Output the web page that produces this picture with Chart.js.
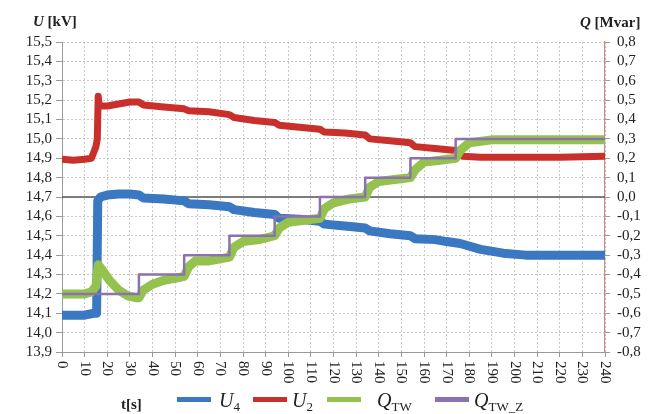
<!DOCTYPE html>
<html>
<head>
<meta charset="utf-8">
<script src="https://cdn.jsdelivr.net/npm/chart.js@4/dist/chart.umd.min.js"></script>
<style>
  html, body { margin: 0; padding: 0; background: #fff; }
  #wrap { position: relative; width: 654px; height: 414px; font-family: "Liberation Serif", "Times New Roman", serif; color: #222; }
  #c { position: absolute; left: 0; top: 0; }
  .lbl { position: absolute; white-space: nowrap; line-height: 1; }
  .ttl { font-size: 15px; font-weight: bold; }
  .leg { font-size: 20px; font-style: italic; }
  .leg sub { font-size: 13px; font-style: normal; vertical-align: -4px; line-height: 0; }
  .sw { position: absolute; top: 397px; width: 34px; height: 5px; }
</style>
</head>
<body>
<div id="wrap">
  <canvas id="c" width="654" height="414"></canvas>
  <div class="lbl ttl" style="left:33px;top:14px;"><i>U</i> [kV]</div>
  <div class="lbl ttl" style="left:580px;top:15px;"><i>Q</i> [Mvar]</div>
  <div class="lbl ttl" style="left:121px;top:397px;">t[s]</div>

  <div class="sw" style="left:177px;background:#3b78c2;"></div>
  <div class="lbl leg" style="left:219px;top:390px;">U<sub>4</sub></div>
  <div class="sw" style="left:253px;background:#c9302c;"></div>
  <div class="lbl leg" style="left:292px;top:390px;">U<sub>2</sub></div>
  <div class="sw" style="left:327px;background:#95c24f;"></div>
  <div class="lbl leg" style="left:377px;top:390px;">Q<sub>TW</sub></div>
  <div class="sw" style="left:435px;background:#8a72b0;"></div>
  <div class="lbl leg" style="left:474px;top:390px;">Q<sub>TW_Z</sub></div>
</div>

<script>
// Time axis and tick values
const timeTicks = [0, 10, 20, 30, 40, 50, 60, 70, 80, 90, 100, 110, 120, 130, 140, 150, 160, 170, 180, 190, 200, 210, 220, 230, 240];
const voltTicks = [13.9, 14.0, 14.1, 14.2, 14.3, 14.4, 14.5, 14.6, 14.7, 14.8, 14.9, 15.0, 15.1, 15.2, 15.3, 15.4, 15.5];
const qTicks = [-0.8, -0.7, -0.6, -0.5, -0.4, -0.3, -0.2, -0.1, 0.0, 0.1, 0.2, 0.3, 0.4, 0.5, 0.6, 0.7, 0.8];

// U4 [kV]
const tU4 = [0, 5, 10, 14, 15.3, 15.8, 17, 20, 25, 30, 34, 36, 45, 54, 56, 65, 74, 76, 85, 94, 96, 105, 114, 116, 125, 134, 136, 145, 154, 156, 165, 170, 176, 185, 195, 205, 220, 240];
const vU4 = [14.09, 14.09, 14.09, 14.10, 14.10, 14.68, 14.70, 14.71, 14.715, 14.715, 14.71, 14.695, 14.69, 14.68, 14.665, 14.66, 14.65, 14.635, 14.62, 14.61, 14.59, 14.585, 14.575, 14.56, 14.55, 14.54, 14.525, 14.51, 14.50, 14.485, 14.48, 14.47, 14.46, 14.43, 14.41, 14.40, 14.40, 14.40];

// U2 [kV]
const tU2 = [0, 5, 10, 13, 14, 15, 15.6, 16, 16.5, 20, 25, 30, 34, 36, 45, 54, 56, 65, 74, 76, 85, 94, 96, 105, 114, 116, 125, 134, 136, 145, 154, 156, 165, 174, 177, 185, 200, 220, 240];
const vU2 = [14.895, 14.89, 14.895, 14.90, 14.93, 14.96, 15.00, 15.22, 15.17, 15.17, 15.18, 15.19, 15.19, 15.175, 15.165, 15.155, 15.145, 15.14, 15.125, 15.11, 15.095, 15.085, 15.07, 15.06, 15.05, 15.035, 15.03, 15.02, 15.0, 14.99, 14.98, 14.96, 14.95, 14.94, 14.91, 14.905, 14.905, 14.905, 14.91];

// Q_TW [Mvar]
const tQtw = [0, 5, 10, 13, 15, 16, 18, 21, 25, 29, 33, 34, 36, 40, 45, 50, 54, 56, 59, 65, 74, 76, 80, 87, 94, 96, 100, 107, 114, 116, 120, 127, 134, 136, 140, 147, 154, 156, 160, 167, 174, 176, 180, 190, 200, 220, 240];
const vQtw = [-0.50, -0.50, -0.50, -0.49, -0.46, -0.35, -0.38, -0.43, -0.48, -0.51, -0.52, -0.52, -0.48, -0.45, -0.43, -0.42, -0.41, -0.36, -0.33, -0.33, -0.31, -0.26, -0.23, -0.22, -0.20, -0.16, -0.13, -0.12, -0.11, -0.06, -0.03, -0.01, 0.0, 0.05, 0.08, 0.09, 0.10, 0.14, 0.18, 0.19, 0.20, 0.24, 0.28, 0.295, 0.295, 0.295, 0.295];

// Q_TW_Z setpoint [Mvar]
const tQz = [0, 34, 54, 74, 94, 114, 134, 154, 174, 240];
const vQz = [-0.5, -0.4, -0.3, -0.2, -0.1, 0.0, 0.1, 0.2, 0.3, 0.3];

const zeroQ = 0.0;

const toPoints = (ts, vs) => ts.map((t, i) => ({ x: t, y: vs[i] }));
const fmt = v => Number(v).toFixed(1).replace('.', ',').replace('-0,0', '0,0');

const FONT = '"Liberation Serif", "Times New Roman", serif';
const gridCol = '#c9c9c9';
const axisCol = '#9a9a9a';

const extras = {
  id: 'extras',
  beforeDatasetsDraw(chart) {
    const { ctx, chartArea: a, scales } = chart;
    const py = scales.y2.getPixelForValue(zeroQ);
    ctx.save();
    ctx.strokeStyle = '#555';
    ctx.lineWidth = 1.3;
    ctx.beginPath();
    ctx.moveTo(a.left, py);
    ctx.lineTo(a.right, py);
    ctx.stroke();
    ctx.restore();
  },
  afterDraw(chart) {
    const { ctx, chartArea: a, scales } = chart;
    ctx.save();
    ctx.font = '15px ' + FONT;
    ctx.fillStyle = '#222';
    ctx.textAlign = 'left';
    ctx.textBaseline = 'middle';
    timeTicks.forEach(t => {
      const px = scales.x.getPixelForValue(t);
      ctx.save();
      ctx.translate(px, a.bottom + 9);
      ctx.rotate(Math.PI / 2);
      ctx.fillText(String(t), 0, 0);
      ctx.restore();
    });
    ctx.restore();
  }
};

const lineDefaults = { pointRadius: 0, tension: 0, fill: false, borderJoinStyle: 'round', borderCapStyle: 'butt' };

new Chart(document.getElementById('c'), {
  type: 'line',
  data: {
    datasets: [
      Object.assign({ label: 'U4', data: toPoints(tU4, vU4), borderColor: '#3b78c2', borderWidth: 9, yAxisID: 'y', order: 4 }, lineDefaults),
      Object.assign({ label: 'U2', data: toPoints(tU2, vU2), borderColor: '#c9302c', borderWidth: 7, yAxisID: 'y', order: 3 }, lineDefaults),
      Object.assign({ label: 'QTW', data: toPoints(tQtw, vQtw), borderColor: '#95c24f', borderWidth: 9, yAxisID: 'y2', order: 2 }, lineDefaults),
      Object.assign({ label: 'QTW_Z', data: toPoints(tQz, vQz), borderColor: '#8a72b0', borderWidth: 2.5, yAxisID: 'y2', order: 1, stepped: true }, lineDefaults)
    ]
  },
  options: {
    responsive: false,
    animation: false,
    events: [],
    layout: { padding: { left: 0, right: 0, top: 42, bottom: 0 } },
    plugins: { legend: { display: false }, tooltip: { enabled: false } },
    scales: {
      x: {
        type: 'linear', min: 0, max: 240,
        afterBuildTicks: s => { s.ticks = timeTicks.map(v => ({ value: v })); },
        afterFit: s => { s.height = 62; },
        ticks: { display: false, autoSkip: false },
        grid: { color: gridCol, lineWidth: 1, tickLength: 5, tickColor: axisCol, drawTicks: true },
        border: { display: true, color: axisCol, width: 1, dash: [2, 2] }
      },
      y: {
        position: 'left', min: 13.9, max: 15.5,
        afterBuildTicks: s => { s.ticks = voltTicks.map(v => ({ value: v })); },
        afterFit: s => { s.width = 62; },
        ticks: { callback: v => fmt(v), font: { family: FONT, size: 15 }, color: '#222', padding: 4, autoSkip: false },
        grid: { color: gridCol, lineWidth: 1, tickLength: 6, tickColor: axisCol },
        border: { display: true, color: axisCol, width: 1, dash: [2, 2] }
      },
      y2: {
        position: 'right', min: -0.8, max: 0.8,
        afterBuildTicks: s => { s.ticks = qTicks.map(v => ({ value: v })); },
        afterFit: s => { s.width = 49; },
        ticks: { callback: v => fmt(v), font: { family: FONT, size: 15 }, color: '#222', padding: 7, autoSkip: false },
        grid: { drawOnChartArea: false, tickLength: 5, tickColor: axisCol },
        border: { display: true, color: '#c98a86', width: 1.2 }
      }
    }
  },
  plugins: [extras]
});
</script>
</body>
</html>
